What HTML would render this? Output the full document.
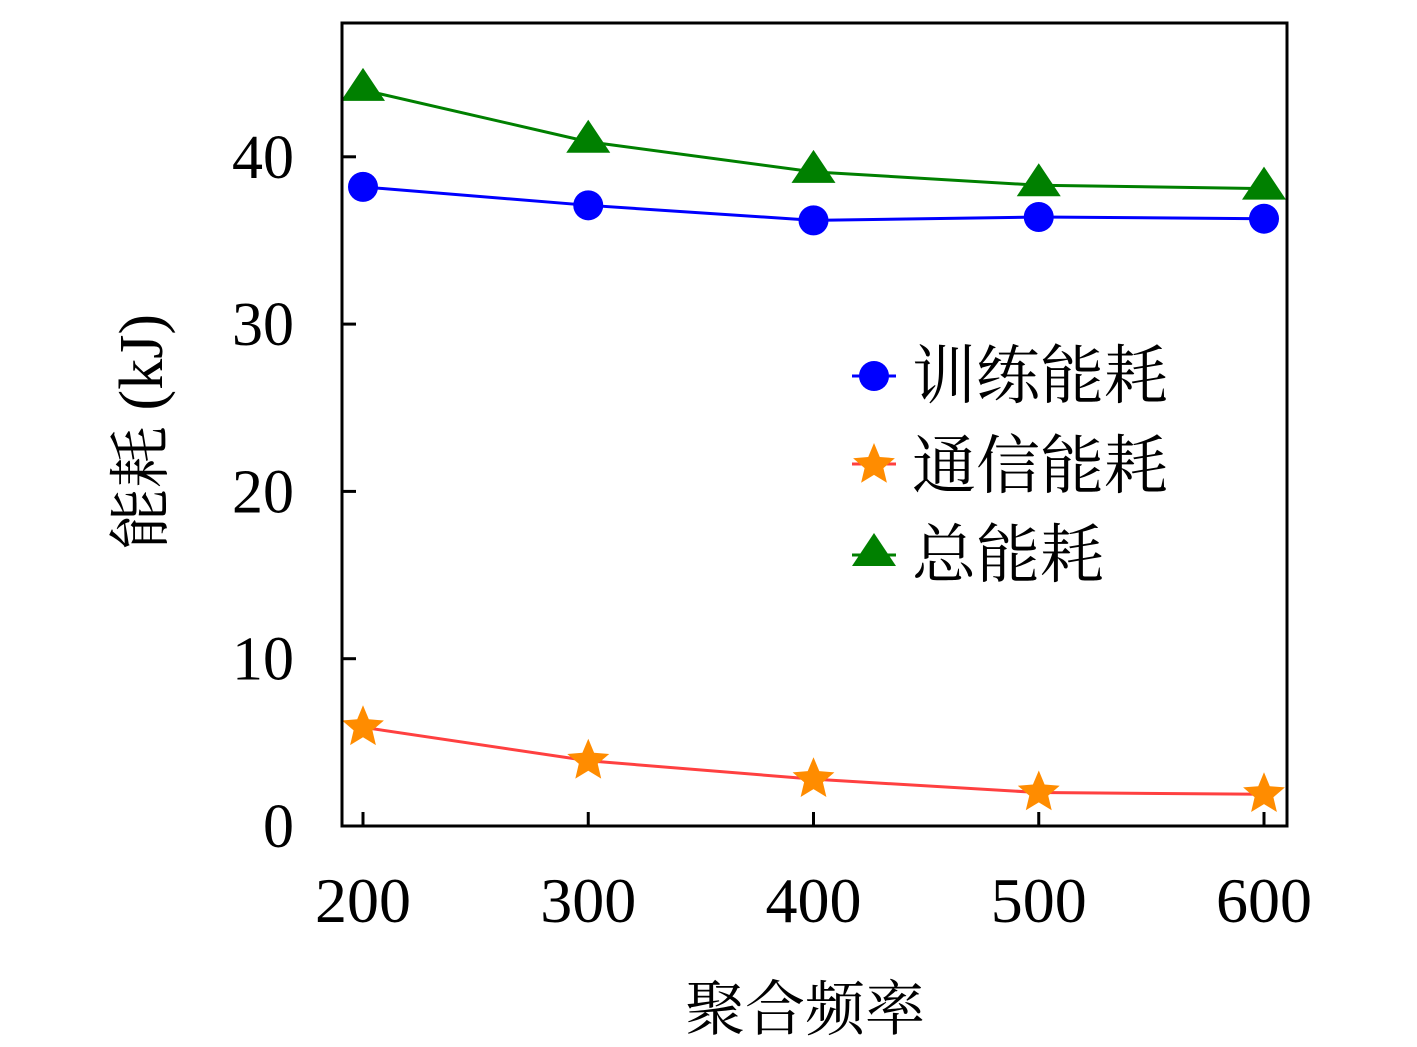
<!DOCTYPE html>
<html><head><meta charset="utf-8"><style>
body{margin:0;background:#fff}
svg text{font-family:"Liberation Serif","Noto Serif CJK SC",serif;fill:#000}
</style></head><body>
<svg width="1417" height="1042" viewBox="0 0 1417 1042" xmlns="http://www.w3.org/2000/svg">
<rect width="1417" height="1042" fill="#fff"/>
<g id="grid"></g>
<g id="series"></g>
<rect x="342" y="23" width="945" height="803" fill="none" stroke="#000" stroke-width="3"/>
<text x="685" y="1030" font-size="60">聚合频率</text>
<text transform="translate(162,432) rotate(-90)" text-anchor="middle" font-size="62">能耗 (kJ)</text>
<g>
<g>
<line x1="852" y1="376" x2="896" y2="376" stroke="#0000ff" stroke-width="3"/>
<circle cx="874" cy="376" r="15" fill="#0000ff"/>
<text x="912" y="398" font-size="64">训练能耗</text></g>
<g>
<line x1="852" y1="464" x2="896" y2="464" stroke="#ff4040" stroke-width="3"/>
<polygon id="legstar" fill="#ff8c00"/>
<text x="912" y="488" font-size="64">通信能耗</text></g>
<g>
<line x1="852" y1="555" x2="896" y2="555" stroke="#008000" stroke-width="3"/>
<polygon points="874,533 896,566 852,566" fill="#008000"/>
<text x="912" y="577" font-size="64">总能耗</text></g>
</g>
</svg>
<script>
const categories=[200,300,400,500,600];
const training=[38.2,37.1,36.2,36.4,36.3];
const comm=[5.9,3.9,2.8,2.0,1.9];
const total=[44.0,40.9,39.1,38.3,38.1];
const yTicks=[0,10,20,30,40];
const NS="http://www.w3.org/2000/svg";
const xS=v=>363+(v-200)*2.2525;
const yS=v=>826-v*16.73;
function mk(t,a,p){const e=document.createElementNS(NS,t);for(const k in a)e.setAttribute(k,a[k]);p.appendChild(e);return e;}
const g=document.getElementById('grid'),s=document.getElementById('series');
yTicks.forEach(v=>{
 const l=mk('line',{x1:342,x2:356,y1:yS(v),y2:yS(v),stroke:'#000','stroke-width':3},g);
 
 
 const t=mk('text',{x:294,y:yS(v)+21,'text-anchor':'end','font-size':62},g);
 
 
 t.textContent=v;
});
categories.forEach(v=>{
 const l=mk('line',{x1:xS(v),x2:xS(v),y1:826,y2:812,stroke:'#000','stroke-width':3},g);
 
 
 const t=mk('text',{x:xS(v),y:922,'text-anchor':'middle','font-size':64},g);
 
 
 t.textContent=v;
});
function starPts(cx,cy,R){const r=R*0.45;let p=[];for(let i=0;i<10;i++){const a=-Math.PI/2+i*Math.PI/5;const rr=i%2?r:R;p.push((cx+rr*Math.cos(a)).toFixed(1)+','+(cy+rr*Math.sin(a)).toFixed(1));}return p.join(' ');}
document.getElementById('legstar').setAttribute('points',starPts(874,465,22));
function series(vals,color,name,marker){
 const pl=mk('polyline',{points:vals.map((v,i)=>xS(categories[i])+','+yS(v)).join(' '),fill:'none',stroke:color,'stroke-width':3},s);
 
 
 vals.forEach((v,i)=>{
  const x=xS(categories[i]),y=yS(v);let m;
  if(marker==='circle')m=mk('circle',{cx:x,cy:y,r:15,fill:'#0000ff'},s);
  else if(marker==='star')m=mk('polygon',{points:starPts(x,y,22),fill:'#ff8c00'},s);
  else m=mk('polygon',{points:`${x},${y-22} ${x+22},${y+11} ${x-22},${y+11}`,fill:'#008000'},s);
  
  
 });
}
series(total,'#008000','total','tri');
series(training,'#0000ff','training','circle');
series(comm,'#ff4040','comm','star');
</script>
</body></html>
